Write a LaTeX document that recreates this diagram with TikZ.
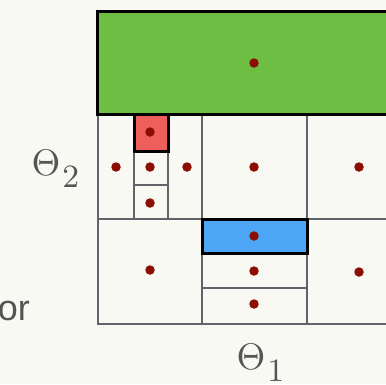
\documentclass[tikz,border=0pt]{standalone}
\usepackage{fontspec}
\newfontfamily\labelsans{Liberation Sans}
\definecolor{bgc}{RGB}{249,249,244}
\definecolor{gridc}{RGB}{96,100,106}
\definecolor{greenc}{RGB}{110,190,68}
\definecolor{redc}{RGB}{238,94,90}
\definecolor{bluec}{RGB}{78,166,246}
\definecolor{dotc}{RGB}{140,14,2}
\definecolor{textc}{RGB}{85,85,85}
\newcommand{\thetalab}[1]{$\Theta$\kern0.5pt\raisebox{-3.5pt}{\fontsize{8.8}{9}\selectfont #1}}
\begin{document}
\begin{tikzpicture}[x=1pt,y=-1pt,
  gridline/.style={draw=gridc,line width=2.3pt},
  hibox/.style={draw=black,line width=3pt},
  samplept/.style={circle,fill=dotc,inner sep=0pt,minimum size=9.5pt},
  mathlabel/.style={inner sep=0pt,text=textc,scale=3.7}]
\clip (0,0) rectangle (386,384);
\fill[bgc] (0,0) rectangle (386,384);
% grid
\draw[gridline] (98,114) rectangle (412,324);
\draw[gridline] (202,114) -- (202,324) (307,114) -- (307,324) (98,219) -- (412,219);
\draw[gridline] (134,114) -- (134,219) (168,114) -- (168,219) (134,150) -- (168,150) (134,185) -- (168,185);
\draw[gridline] (202,253) -- (307,253) (202,288) -- (307,288);
% highlighted cells
\filldraw[hibox,fill=redc] (134,114) rectangle (168,151);
\filldraw[hibox,fill=bluec] (202,219) rectangle (307,253);
\filldraw[hibox,fill=greenc] (97,11) rectangle (420,114);
% sample points
\node[samplept] (g) at (254,63) {};
\node[samplept] (r) at (150,132) {};
\node[samplept] (a1) at (116,167) {};
\node[samplept] (a2) at (150,167) {};
\node[samplept] (a3) at (187,167) {};
\node[samplept] (a4) at (150,203) {};
\node[samplept] (b1) at (254,167) {};
\node[samplept] (c1) at (359,167) {};
\node[samplept] (d1) at (150,270) {};
\node[samplept] (e1) at (254,236) {};
\node[samplept] (e2) at (254,271) {};
\node[samplept] (e3) at (254,304) {};
\node[samplept] (f1) at (359,272) {};
% labels
\node[mathlabel,anchor=base west] (t2) at (31,175) {\thetalab{2}};
\node[mathlabel,anchor=base west] (t1) at (236,369) {\thetalab{1}};
\node[inner sep=0pt,text=textc,anchor=base east,font=\labelsans\fontsize{36}{38}\selectfont] (orl) at (30,320) {or};
\end{tikzpicture}
\end{document}
